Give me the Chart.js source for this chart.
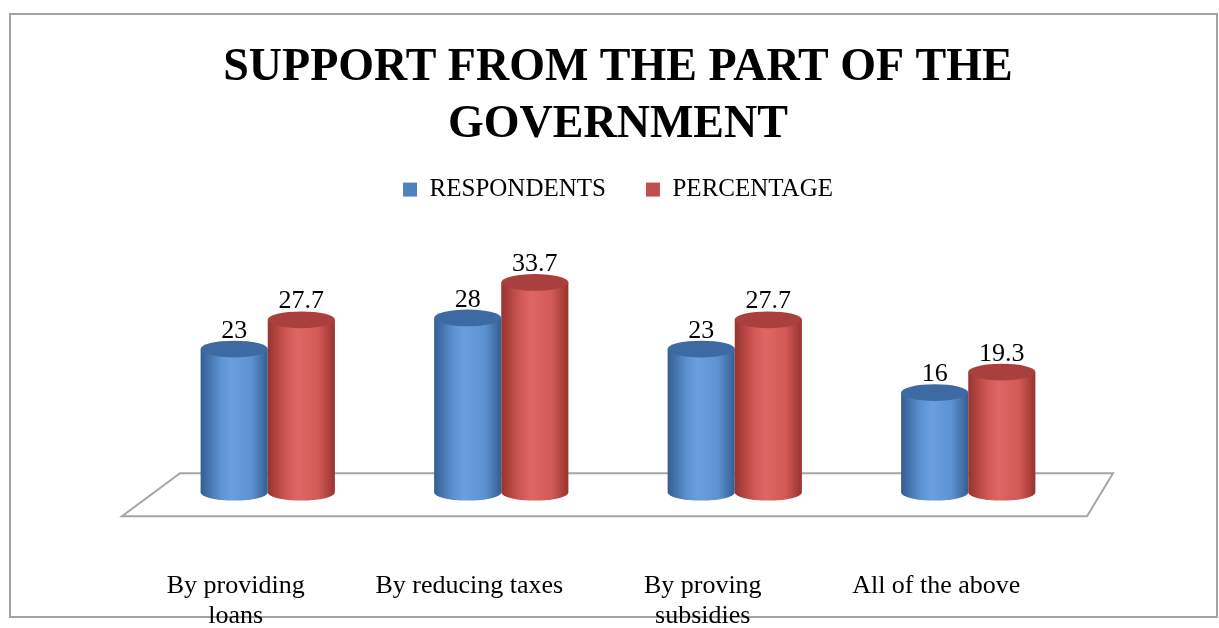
<!DOCTYPE html>
<html>
<head>
<meta charset="utf-8">
<title>Support from the part of the government</title>
<script src="https://cdn.jsdelivr.net/npm/chart.js@4/dist/chart.umd.min.js"></script>
<style>
  html, body { margin: 0; padding: 0; background: #fff; }
  #wrap { width: 1219px; height: 628px; position: relative; }
</style>
</head>
<body>
<div id="wrap"><canvas id="chart"></canvas></div>
<script>
// data
var categories = [["By providing", "loans"], ["By reducing taxes"], ["By proving", "subsidies"], ["All of the above"]];
var respondents = [23, 28, 23, 16];
var percentage = [27.7, 33.7, 27.7, 19.3];
var seriesNames = ["RESPONDENTS", "PERCENTAGE"];
var titleLines = ["SUPPORT FROM THE PART OF THE", "GOVERNMENT"];

var serif = "'Liberation Serif', 'DejaVu Serif', serif";

// colours for each series: edge, highlight, top of the cylinder
var shades = [
    { edge: "#345e92", mid: "#5d93d3", light: "#6a9fde", top: "#3d6aa3", legend: "#4f81bd" },
    { edge: "#97332f", mid: "#d35a56", light: "#dc6764", top: "#a9403d", legend: "#c0504d" }
];

// frame round the whole chart
var framePlugin = {
    id: "frame",
    beforeDraw: function (chart) {
        var ctx = chart.ctx;
        ctx.save();
        ctx.strokeStyle = "#a3a3a3";
        ctx.lineWidth = 2;
        ctx.strokeRect(10, 14, 1207, 603);
        ctx.restore();
    }
};

// the flat floor the cylinders stand on
var floorPlugin = {
    id: "floor",
    beforeDatasetsDraw: function (chart) {
        var a = chart.chartArea;
        var ctx = chart.ctx;
        ctx.save();
        ctx.beginPath();
        ctx.moveTo(a.left + 29, a.bottom - 19);
        ctx.lineTo(a.right + 28, a.bottom - 19);
        ctx.lineTo(a.right + 2, a.bottom + 24);
        ctx.lineTo(a.left - 29, a.bottom + 24);
        ctx.closePath();
        ctx.fillStyle = "#fff";
        ctx.fill();
        ctx.strokeStyle = "#a6a6a6";
        ctx.lineWidth = 2;
        ctx.stroke();
        ctx.restore();
    }
};

// cylinders drawn over the (transparent) bars, plus value labels
var cylinderPlugin = {
    id: "cylinders",
    afterDatasetsDraw: function (chart) {
        var ctx = chart.ctx;
        var n = chart.data.labels.length;
        for (var i = 0; i < n; i++) {
            chart.data.datasets.forEach(function (ds, d) {
                var bar = chart.getDatasetMeta(d).data[i];
                var p = bar.getProps(["x", "y", "base", "width"], true);
                var rx = p.width / 2;
                var ry = rx * 0.25;
                var left = p.x - rx, right = p.x + rx;
                var s = shades[d];

                ctx.save();
                var g = ctx.createLinearGradient(left, 0, right, 0);
                g.addColorStop(0, s.edge);
                g.addColorStop(0.3, s.mid);
                g.addColorStop(0.45, s.light);
                g.addColorStop(0.75, s.mid);
                g.addColorStop(1, s.edge);

                ctx.beginPath();
                ctx.moveTo(left, p.y);
                ctx.lineTo(left, p.base);
                ctx.ellipse(p.x, p.base, rx, ry, 0, Math.PI, 0, true);
                ctx.lineTo(right, p.y);
                ctx.closePath();
                ctx.fillStyle = g;
                ctx.fill();

                ctx.beginPath();
                ctx.ellipse(p.x, p.y, rx, ry, 0, 0, Math.PI * 2);
                ctx.fillStyle = s.top;
                ctx.fill();

                ctx.fillStyle = "#000";
                ctx.font = "26px " + serif;
                ctx.textAlign = "center";
                ctx.textBaseline = "alphabetic";
                ctx.fillText(String(ds.data[i]), p.x, p.y - ry - 3);
                ctx.restore();
            });
        }
    }
};

var ctx = document.getElementById("chart").getContext("2d");

var chart = new Chart(ctx, {
    type: "bar",
    data: {
        labels: categories,
        datasets: [
            { label: seriesNames[0], data: respondents, backgroundColor: "rgba(0,0,0,0)", legendColor: shades[0].legend },
            { label: seriesNames[1], data: percentage, backgroundColor: "rgba(0,0,0,0)", legendColor: shades[1].legend }
        ]
    },
    options: {
        responsive: true,
        maintainAspectRatio: false,
        animation: false,
        events: [],
        layout: { padding: { left: 151, right: 134, top: 0, bottom: -82 } },
        datasets: { bar: { categoryPercentage: 0.575, barPercentage: 1 } },
        scales: {
            x: {
                grid: { display: false, drawTicks: false },
                border: { display: false },
                ticks: {
                    padding: 79,
                    labelOffset: -32,
                    maxRotation: 0,
                    autoSkip: false,
                    color: "#000",
                    font: { family: serif, size: 26, lineHeight: 1.15 }
                }
            },
            y: { display: false, min: 0, max: 45 }
        },
        plugins: {
            title: {
                display: true,
                text: titleLines,
                color: "#000",
                font: { family: serif, size: 46, weight: "bold", lineHeight: 1.24 },
                padding: { top: 40, bottom: -17 }
            },
            legend: {
                labels: {
                    boxWidth: 14,
                    boxHeight: 14,
                    padding: 40,
                    color: "#000",
                    font: { family: serif, size: 25 },
                    generateLabels: function (c) {
                        return c.data.datasets.map(function (ds, i) {
                            return { text: ds.label, fillStyle: ds.legendColor, strokeStyle: ds.legendColor, lineWidth: 0, datasetIndex: i };
                        });
                    }
                }
            },
            tooltip: { enabled: false }
        }
    },
    plugins: [framePlugin, floorPlugin, cylinderPlugin]
});
</script>
</body>
</html>
